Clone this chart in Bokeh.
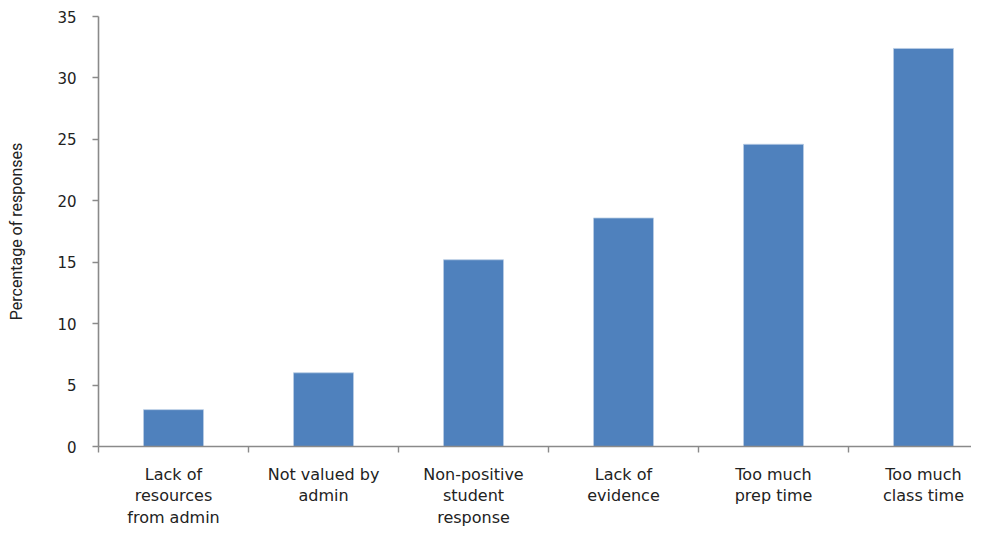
from bokeh.plotting import figure
from bokeh.models import Range1d, FixedTicker, LinearAxis, ColumnDataSource
from bokeh.embed import file_html
from bokeh.resources import INLINE

categories = ["Lack of\nresources\nfrom admin", "Not valued by\nadmin",
              "Non-positive\nstudent\nresponse", "Lack of\nevidence",
              "Too much\nprep time", "Too much\nclass time"]
values = [3.0, 6.0, 15.2, 18.6, 24.6, 32.4]
y_ticks = [0, 5, 10, 15, 20, 25, 30, 35]

xs = [i + 0.5 for i in range(len(categories))]
boundaries = list(range(len(categories) + 1))
src = ColumnDataSource(dict(x=xs, top=values))

p = figure(width=971, height=530, output_backend="svg", toolbar_location=None,
           x_range=Range1d(0, 5.82), y_range=Range1d(0, 35),
           min_border_left=98, min_border_right=0, min_border_top=16, min_border_bottom=78)
p.outline_line_color = None
p.xgrid.grid_line_color = None
p.ygrid.grid_line_color = None

p.vbar(x="x", top="top", bottom=0, width=0.4, source=src,
       fill_color="#4F81BD", line_color="#B9CDE5", line_width=0.8)

ax_col = "#8a8a8a"
txt_col = "#222222"
# y axis
p.yaxis.ticker = FixedTicker(ticks=y_ticks)
p.yaxis.minor_tick_line_color = None
p.yaxis.axis_line_color = ax_col
p.yaxis.axis_line_width = 1.6
p.yaxis.major_tick_line_color = ax_col
p.yaxis.major_tick_line_width = 1.4
p.yaxis.major_tick_in = 0
p.yaxis.major_tick_out = 6
p.yaxis.major_label_standoff = 16
p.yaxis.major_label_text_font = "DejaVu Sans"
p.yaxis.major_label_text_font_size = "15px"
p.yaxis.major_label_text_color = txt_col
p.yaxis.axis_label = "Percentage of responses"
p.yaxis.axis_label_text_font = "Roboto"
p.yaxis.axis_label_text_font_size = "16px"
p.yaxis.axis_label_text_font_style = "normal"
p.yaxis.axis_label_text_color = txt_col
p.yaxis.axis_label_standoff = 28

# x axis: tick marks at category boundaries (no labels)
p.xaxis.ticker = FixedTicker(ticks=boundaries)
p.xaxis.major_label_overrides = {b: "" for b in boundaries}
p.xaxis.minor_tick_line_color = None
p.xaxis.axis_line_color = ax_col
p.xaxis.axis_line_width = 1.6
p.xaxis.major_tick_line_color = ax_col
p.xaxis.major_tick_line_width = 1.4
p.xaxis.major_tick_in = 0
p.xaxis.major_tick_out = 6
p.xaxis.major_label_text_font_size = "1px"
p.xaxis.major_label_standoff = 0

# second axis: category labels at bar centres
lab_axis = LinearAxis(ticker=FixedTicker(ticks=xs),
                      major_label_overrides={x: c for x, c in zip(xs, categories)})
lab_axis.axis_line_color = None
lab_axis.major_tick_line_color = None
lab_axis.minor_tick_line_color = None
lab_axis.major_tick_out = 0
lab_axis.major_tick_in = 0
lab_axis.major_label_standoff = 12
lab_axis.major_label_text_font = "DejaVu Sans"
lab_axis.major_label_text_font_size = "16px"
lab_axis.major_label_text_color = txt_col
lab_axis.major_label_text_line_height = 1.15
p.add_layout(lab_axis, "below")

open("out.html", "w").write(file_html(p, INLINE))
